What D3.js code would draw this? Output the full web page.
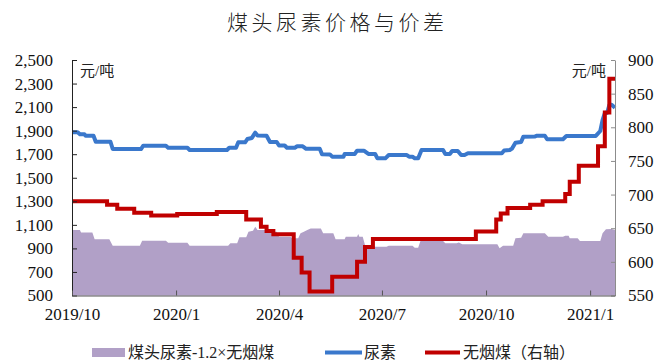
<!DOCTYPE html>
<html>
<head>
<meta charset="utf-8">
<script src="https://cdn.jsdelivr.net/npm/d3@7"></script>
<style>
  body { margin: 0; background: #fff; }
  svg { display: block; }
</style>
</head>
<body>
<svg id="chart" width="659" height="360"></svg>
<script>
// 尿素价格（元/吨，左轴）
const ureaDates = ["2019-10-01","2019-10-06","2019-10-08","2019-10-12","2019-10-13","2019-10-20","2019-10-22","2019-11-04","2019-11-06","2019-12-01","2019-12-03","2019-12-23","2019-12-25","2020-01-11","2020-01-13","2020-02-15","2020-02-17","2020-02-23","2020-02-25","2020-03-02","2020-03-04","2020-03-08","2020-03-11","2020-03-13","2020-03-21","2020-03-24","2020-03-30","2020-04-01","2020-04-06","2020-04-08","2020-04-15","2020-04-17","2020-04-22","2020-04-25","2020-05-07","2020-05-09","2020-05-16","2020-05-18","2020-05-28","2020-05-29","2020-06-07","2020-06-09","2020-06-15","2020-06-19","2020-06-25","2020-06-27","2020-07-04","2020-07-07","2020-07-23","2020-07-25","2020-07-28","2020-07-30","2020-08-02","2020-08-05","2020-08-24","2020-08-26","2020-08-30","2020-09-01","2020-09-06","2020-09-09","2020-09-12","2020-09-15","2020-10-15","2020-10-17","2020-10-22","2020-10-24","2020-10-27","2020-11-01","2020-11-03","2020-11-13","2020-11-15","2020-11-22","2020-11-24","2020-12-08","2020-12-11","2021-01-06","2021-01-10","2021-01-12","2021-01-14","2021-01-16","2021-01-18","2021-01-20","2021-01-23"];
const ureaValues = [1886,1886,1869,1869,1857,1857,1806,1806,1744,1744,1772,1772,1755,1755,1736,1736,1755,1755,1801,1801,1829,1838,1883,1859,1857,1804,1804,1774,1774,1755,1755,1767,1767,1746,1746,1700,1698,1679,1679,1702,1702,1730,1730,1702,1702,1665,1665,1693,1693,1679,1679,1665,1665,1736,1736,1702,1702,1727,1727,1693,1693,1708,1708,1731,1736,1748,1798,1804,1849,1850,1857,1857,1827,1827,1855,1855,1897,1990,2050,2050,2118,2120,2095];

// 无烟煤价格（元/吨，右轴），阶梯调价
const coalDates = ["2019-10-01","2019-11-01","2019-11-10","2019-11-25","2019-12-10","2020-01-02","2020-02-06","2020-03-03","2020-03-16","2020-03-21","2020-03-27","2020-04-14","2020-04-21","2020-04-28","2020-05-18","2020-06-09","2020-06-16","2020-06-23","2020-09-22","2020-10-10","2020-10-14","2020-10-20","2020-11-09","2020-11-20","2020-12-10","2020-12-14","2020-12-22","2021-01-08","2021-01-14","2021-01-18","2021-01-23"];
const coalValues = [690,685,679,673,669,671,674,663,652,646,641,606,584,556,578,600,622,634,645,663,672,680,685,690,701,719,743,772,822,872,872];

// 价差：煤头尿素-1.2×无烟煤（元/吨，左轴）
const spreadDates = ["2019-10-01","2019-10-08","2019-10-09","2019-10-19","2019-10-21","2019-11-03","2019-11-06","2019-11-30","2019-12-02","2019-12-23","2019-12-25","2020-01-11","2020-01-13","2020-02-16","2020-02-18","2020-02-24","2020-02-26","2020-03-03","2020-03-05","2020-03-09","2020-03-11","2020-03-13","2020-03-21","2020-03-23","2020-03-30","2020-04-01","2020-04-11","2020-04-13","2020-04-18","2020-04-20","2020-04-23","2020-04-26","2020-04-29","2020-05-08","2020-05-10","2020-05-19","2020-05-21","2020-05-29","2020-05-30","2020-06-09","2020-06-10","2020-06-11","2020-06-14","2020-06-16","2020-06-23","2020-06-25","2020-07-05","2020-07-07","2020-07-28","2020-07-30","2020-08-02","2020-08-04","2020-08-24","2020-08-26","2020-09-05","2020-09-07","2020-09-10","2020-10-11","2020-10-13","2020-10-16","2020-10-25","2020-10-27","2020-11-01","2020-11-03","2020-11-22","2020-11-25","2020-12-08","2020-12-10","2020-12-13","2020-12-14","2020-12-21","2020-12-23","2021-01-10","2021-01-12","2021-01-15","2021-01-20","2021-01-23"];
const spreadValues = [1056,1056,1035,1035,977,977,923,923,965,965,948,948,923,923,943,943,994,994,1042,1050,1084,1056,1056,1042,1042,1000,999,986,986,1028,1042,1056,1070,1070,1028,1028,977,977,999,999,1022,999,999,929,929,914,914,923,923,906,906,963,963,943,943,950,935,935,901,923,923,986,991,1028,1028,999,999,1008,1008,986,986,963,963,1028,1062,1065,1056];

// 坐标轴刻度
const leftTicks = [500,700,900,1100,1300,1500,1700,1900,2100,2300,2500];
const rightTicks = [550,600,650,700,750,800,850,900];
const xTickDates = ["2019-10-01","2020-01-01","2020-04-01","2020-07-01","2020-10-01","2021-01-01"];
const xTickLabels = ["2019/10","2020/1","2020/4","2020/7","2020/10","2021/1"];
const xDomain = ["2019-10-01","2021-01-23"];

const parse = d3.timeParse("%Y-%m-%d");
const svg = d3.select("#chart");

const plot = { left: 72, right: 615, top: 60, bottom: 295.5 };
const serif = "'Liberation Serif', 'Noto Sans CJK SC', serif";
const cjk = "'Liberation Serif', 'Noto Sans CJK SC', sans-serif";

const x = d3.scaleTime().domain(xDomain.map(parse)).range([plot.left, plot.right]);
const yL = d3.scaleLinear().domain([500, 2500]).range([plot.bottom, plot.top]);
const yR = d3.scaleLinear().domain([550, 900]).range([plot.bottom, plot.top]);

const urea = ureaDates.map((d, i) => ({ date: parse(d), value: ureaValues[i] }));
const coal = coalDates.map((d, i) => ({ date: parse(d), value: coalValues[i] }));
const spread = spreadDates.map((d, i) => ({ date: parse(d), value: spreadValues[i] }));

// 价差面积
svg.append("path")
  .datum(spread)
  .attr("fill", "#b1a0c7")
  .attr("d", d3.area().x(d => x(d.date)).y0(yL(500)).y1(d => yL(d.value)));

// 尿素
svg.append("path")
  .datum(urea)
  .attr("fill", "none")
  .attr("stroke", "#3a78cc")
  .attr("stroke-width", 4)
  .attr("stroke-linejoin", "round")
  .attr("d", d3.line().x(d => x(d.date)).y(d => yL(d.value)));

// 无烟煤
svg.append("path")
  .datum(coal)
  .attr("fill", "none")
  .attr("stroke", "#c00000")
  .attr("stroke-width", 4)
  .attr("d", d3.line().curve(d3.curveStepAfter).x(d => x(d.date)).y(d => yR(d.value)));

// 左轴
const gL = svg.append("g")
  .attr("transform", `translate(${plot.left},0)`)
  .call(d3.axisLeft(yL).tickValues(leftTicks).tickFormat(d3.format(","))
    .tickSizeInner(-5).tickSizeOuter(0).tickPadding(19));
gL.select(".domain").attr("stroke", "#222");
gL.selectAll(".tick line").attr("stroke", "#222");
gL.selectAll("text").attr("font-family", serif).attr("font-size", 17).attr("fill", "#111");

// 右轴
const gR = svg.append("g")
  .attr("transform", `translate(${plot.right},0)`)
  .call(d3.axisRight(yR).tickValues(rightTicks)
    .tickSizeInner(-4).tickSizeOuter(0).tickPadding(13));
gR.select(".domain").attr("stroke", "#8c8c8c");
gR.selectAll(".tick line").attr("stroke", "#8c8c8c");
gR.selectAll("text").attr("font-family", serif).attr("font-size", 17).attr("fill", "#111");

// 横轴
const gX = svg.append("g")
  .attr("transform", `translate(0,${plot.bottom})`)
  .call(d3.axisBottom(x).tickValues(xTickDates.map(parse))
    .tickFormat((d, i) => xTickLabels[i])
    .tickSizeInner(-5).tickSizeOuter(0).tickPadding(12));
gX.select(".domain").attr("stroke", "#555");
gX.selectAll(".tick line").attr("stroke", "#555");
gX.selectAll("text").attr("font-family", serif).attr("font-size", 17).attr("fill", "#111");

// 标题
svg.append("text")
  .attr("x", 227).attr("y", 30)
  .attr("font-family", cjk).attr("font-size", 21).attr("font-weight", 300)
  .attr("letter-spacing", 3.5).attr("fill", "#222")
  .text("煤头尿素价格与价差");

// 单位
svg.append("text").attr("x", 80).attr("y", 76)
  .attr("font-family", cjk).attr("font-size", 15).attr("fill", "#222").text("元/吨");
svg.append("text").attr("x", 606).attr("y", 76).attr("text-anchor", "end")
  .attr("font-family", cjk).attr("font-size", 15).attr("fill", "#222").text("元/吨");

// 图例
const legendY = 352.5;
const leg = svg.append("g").attr("font-family", cjk).attr("font-size", 16).attr("fill", "#222");
leg.append("rect").attr("x", 92).attr("y", legendY - 4.5).attr("width", 33).attr("height", 9).attr("fill", "#b1a0c7");
leg.append("text").attr("x", 128).attr("y", legendY).attr("dy", "0.36em").text("煤头尿素-1.2×无烟煤");
leg.append("line").attr("x1", 325).attr("x2", 362).attr("y1", legendY).attr("y2", legendY)
  .attr("stroke", "#3a78cc").attr("stroke-width", 4);
leg.append("text").attr("x", 364).attr("y", legendY).attr("dy", "0.36em").text("尿素");
leg.append("line").attr("x1", 425).attr("x2", 460).attr("y1", legendY).attr("y2", legendY)
  .attr("stroke", "#c00000").attr("stroke-width", 4);
leg.append("text").attr("x", 463).attr("y", legendY).attr("dy", "0.36em").text("无烟煤（右轴）");
</script>
</body>
</html>
